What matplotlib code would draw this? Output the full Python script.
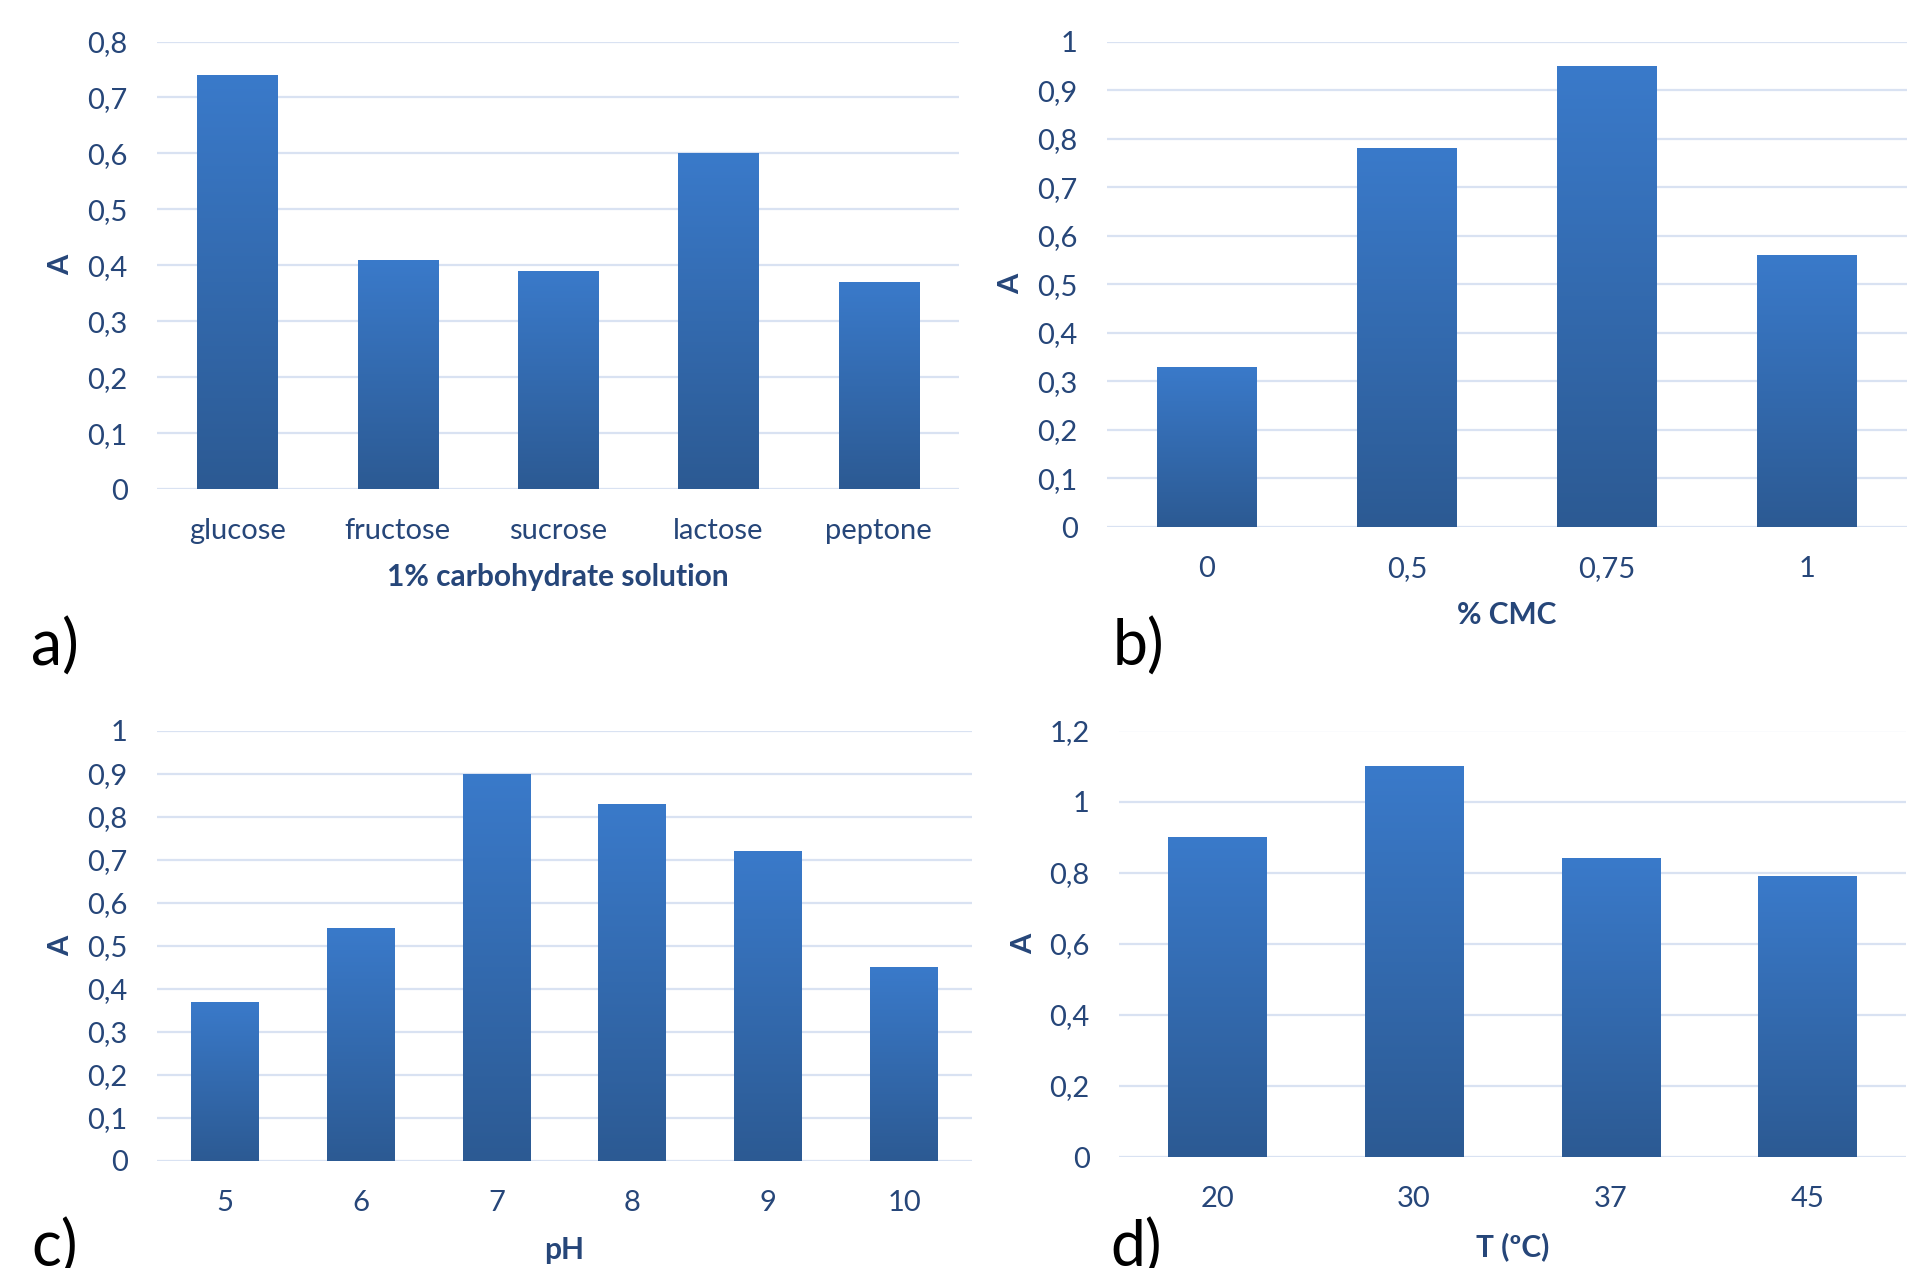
import numpy as np
import matplotlib
matplotlib.use("Agg")
import matplotlib.pyplot as plt
from matplotlib.ticker import FuncFormatter, MultipleLocator
from matplotlib.colors import LinearSegmentedColormap

plt.rcParams['font.family'] = ['Lato', 'DejaVu Sans']

# ---------------- data ----------------
carb_labels = ["glucose", "fructose", "sucrose", "lactose", "peptone"]
carb_values = [0.74, 0.41, 0.39, 0.60, 0.37]

cmc_labels = ["0", "0,5", "0,75", "1"]
cmc_values = [0.33, 0.78, 0.95, 0.56]

ph_labels = ["5", "6", "7", "8", "9", "10"]
ph_values = [0.37, 0.54, 0.90, 0.83, 0.72, 0.45]

temp_labels = ["20", "30", "37", "45"]
temp_values = [0.90, 1.10, 0.84, 0.79]

TEXT = "#264679"
GRID = "#D9E2F2"
grad = LinearSegmentedColormap.from_list("g", ["#2C5A93", "#3A7ACA"])

fig = plt.figure(figsize=(19.29, 12.68), dpi=100)
fig.patch.set_facecolor("white")

W, H = 1929, 1268


def make_ax(x0, x1, ytop, ybot):
    return fig.add_axes([x0 / W, 1 - ybot / H, (x1 - x0) / W, (ybot - ytop) / H])


def comma(v, pos):
    s = f"{v:.1f}".rstrip("0").rstrip(".")
    return s.replace(".", ",")


def panel(ax, labels, values, ymax, ystep, xlabel, ylab_x, xlab_y):
    x = np.arange(len(labels))
    bars = ax.bar(x, values, width=0.5, color="#3570B8", zorder=3, linewidth=0)
    for b in bars:
        bx, by, bw, bh = b.get_x(), b.get_y(), b.get_width(), b.get_height()
        img = ax.imshow(np.linspace(0, 1, 256).reshape(-1, 1), cmap=grad,
                        extent=[bx, bx + bw, by, by + bh], origin="lower",
                        aspect="auto", zorder=4, interpolation="bicubic")
        img.set_clip_path(b)
    ax.set_xlim(-0.5, len(labels) - 0.5)
    ax.set_ylim(0, ymax)
    ax.yaxis.set_major_locator(MultipleLocator(ystep))
    ax.yaxis.set_major_formatter(FuncFormatter(comma))
    ax.set_xticks(x)
    ax.set_xticklabels(labels)
    ax.grid(axis="y", color=GRID, linewidth=1.6, zorder=0)
    ax.set_axisbelow(True)
    for s in ax.spines.values():
        s.set_visible(False)
    ax.tick_params(axis="both", length=0, labelsize=21, colors=TEXT)
    ax.tick_params(axis="y", pad=21)
    ax.tick_params(axis="x", pad=21)
    ax.set_ylabel("A", fontsize=21, fontweight="bold", color=TEXT)
    ax.yaxis.label.set(va="center", ha="center")
    ax.yaxis.set_label_coords(ylab_x, 0.5)
    ax.set_xlabel(xlabel, fontsize=21.5, fontweight="bold", color=TEXT)
    ax.xaxis.label.set(va="center")
    ax.xaxis.set_label_coords(0.5, xlab_y)


ax_a = make_ax(157, 959, 41.5, 489)
panel(ax_a, carb_labels, carb_values, 0.8, 0.1, "1% carbohydrate solution", -0.120, -0.197)

ax_b = make_ax(1107, 1907, 41.7, 527)
panel(ax_b, cmc_labels, cmc_values, 1.0, 0.1, "% CMC", -0.120, -0.181)

ax_c = make_ax(157, 972, 730.5, 1160.7)
panel(ax_c, ph_labels, ph_values, 1.0, 0.1, "pH", -0.118, -0.208)

ax_d = make_ax(1119, 1906, 730.5, 1157)
panel(ax_d, temp_labels, temp_values, 1.2, 0.2, "T (ºC)", -0.121, -0.210)

for lab, px, py in [("a)", 31, 647), ("b)", 1113, 647), ("c)", 31, 1248), ("d)", 1110, 1248)]:
    fig.text(px / W, 1 - py / H, lab, fontsize=45, color="black", ha="left", va="center")

fig.savefig("out.png", dpi=100)
